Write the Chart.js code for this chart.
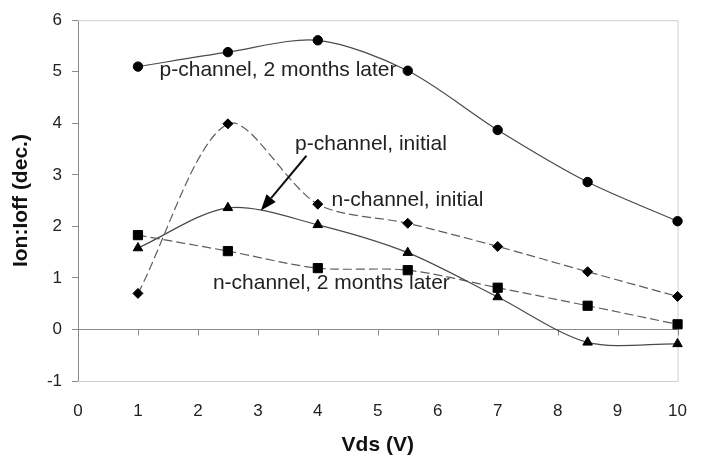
<!DOCTYPE html>
<html>
<head>
<meta charset="utf-8">
<script src="https://cdn.jsdelivr.net/npm/chart.js@4/dist/chart.umd.min.js"></script>
<style>
  html, body { margin: 0; padding: 0; background: #fff; }
  #wrap { width: 707px; height: 461px; }
</style>
</head>
<body>
<div id="wrap"><canvas id="chart" width="707" height="461"></canvas></div>
<script>
// Drain voltage (V) at which each on/off ratio was measured
const vds = [1, 2.5, 4, 5.5, 7, 8.5, 10];

// log10(Ion/Ioff) for each device and measurement time
const pChannelLater   = [5.10, 5.38, 5.61, 5.02, 3.87, 2.86, 2.10];
const nChannelInitial = [0.70, 3.99, 2.43, 2.06, 1.61, 1.12, 0.64];
const pChannelInitial = [1.58, 2.36, 2.03, 1.49, 0.63, -0.25, -0.28];
const nChannelLater   = [1.83, 1.52, 1.19, 1.15, 0.81, 0.46, 0.10];

// Axis ranges and titles
const xRange = [0, 10];
const yRange = [-1, 6];
const xTitle = 'Vds (V)';
const yTitle = 'Ion:Ioff (dec.)';

// Curve labels placed in data coordinates
const curveLabels = [
  { text: 'p-channel, 2 months later', x: 1.36, y: 4.91 },
  { text: 'p-channel, initial',        x: 3.62, y: 3.49 },
  { text: 'n-channel, initial',        x: 4.23, y: 2.39 },
  { text: 'n-channel, 2 months later', x: 2.25, y: 0.78 }
];
// Pointer from the "p-channel, initial" label to its curve
const pointer = { from: [3.81, 3.37], to: [3.05, 2.31] };

const FONT = "'Liberation Sans', Arial, sans-serif";
const toXY = (ys) => vds.map((x, i) => ({ x, y: ys[i] }));

function series(label, ys, style, dashed, radius) {
  return {
    label,
    data: toXY(ys),
    showLine: true,
    borderColor: dashed ? '#5e5e5e' : '#4a4a4a',
    borderWidth: 1.2,
    borderDash: dashed ? [9, 4] : [],
    tension: 0.3,
    pointStyle: style,
    pointRadius: radius,
    pointBackgroundColor: '#000',
    pointBorderColor: '#000',
    pointBorderWidth: 1,
    clip: false
  };
}

// Light frame around the plot, the y = 0 axis line with its ticks, and the curve labels
const decorations = {
  id: 'decorations',
  beforeDatasetsDraw(chart) {
    const { ctx, chartArea: a, scales } = chart;
    const xs = scales.x, ys = scales.y;
    ctx.save();
    ctx.strokeStyle = '#cfcfcf';
    ctx.lineWidth = 1;
    ctx.beginPath();
    ctx.moveTo(a.left, a.top + 0.5);
    ctx.lineTo(a.right + 0.5, a.top + 0.5);
    ctx.lineTo(a.right + 0.5, a.bottom + 0.5);
    ctx.lineTo(a.left, a.bottom + 0.5);
    ctx.stroke();

    const y0 = Math.round(ys.getPixelForValue(0)) + 0.5;
    ctx.strokeStyle = '#8a8a8a';
    ctx.beginPath();
    ctx.moveTo(a.left, y0);
    ctx.lineTo(a.right, y0);
    xs.ticks.forEach(t => {
      const px = Math.round(xs.getPixelForValue(t.value)) + 0.5;
      ctx.moveTo(px, y0);
      ctx.lineTo(px, y0 + 6);
    });
    ctx.stroke();
    ctx.restore();
  },
  afterDatasetsDraw(chart) {
    const { ctx, scales } = chart;
    const xs = scales.x, ys = scales.y;
    ctx.save();
    ctx.fillStyle = '#222';
    ctx.font = '21px ' + FONT;
    ctx.textAlign = 'left';
    ctx.textBaseline = 'alphabetic';
    curveLabels.forEach(l => {
      ctx.fillText(l.text, xs.getPixelForValue(l.x), ys.getPixelForValue(l.y));
    });

    const x1 = xs.getPixelForValue(pointer.from[0]), y1 = ys.getPixelForValue(pointer.from[1]);
    const x2 = xs.getPixelForValue(pointer.to[0]),   y2 = ys.getPixelForValue(pointer.to[1]);
    const ang = Math.atan2(y2 - y1, x2 - x1);
    const headLen = 16, headHalf = 6;
    const bx = x2 - Math.cos(ang) * headLen, by = y2 - Math.sin(ang) * headLen;
    ctx.strokeStyle = '#111';
    ctx.lineWidth = 2;
    ctx.beginPath();
    ctx.moveTo(x1, y1);
    ctx.lineTo(bx, by);
    ctx.stroke();
    ctx.fillStyle = '#000';
    ctx.beginPath();
    ctx.moveTo(x2, y2);
    ctx.lineTo(bx + Math.sin(ang) * headHalf, by - Math.cos(ang) * headHalf);
    ctx.lineTo(bx - Math.sin(ang) * headHalf, by + Math.cos(ang) * headHalf);
    ctx.closePath();
    ctx.fill();
    ctx.restore();
  }
};

new Chart(document.getElementById('chart'), {
  type: 'scatter',
  data: {
    datasets: [
      series('p-channel, 2 months later', pChannelLater, 'circle', false, 4.7),
      series('n-channel, initial', nChannelInitial, 'rectRot', true, 5),
      series('p-channel, initial', pChannelInitial, 'triangle', false, 5.5),
      series('n-channel, 2 months later', nChannelLater, 'rect', true, 6.5)
    ]
  },
  options: {
    responsive: false,
    animation: false,
    devicePixelRatio: 1,
    layout: { padding: { left: 0, right: 25, top: 15, bottom: 0 } },
    plugins: {
      legend: { display: false },
      tooltip: { enabled: false }
    },
    scales: {
      x: {
        type: 'linear',
        min: xRange[0],
        max: xRange[1],
        afterFit: (s) => { s.height = 80; },
        ticks: { stepSize: 1, color: '#222', padding: 20, font: { family: FONT, size: 17 } },
        grid: { display: false, drawTicks: false },
        border: { display: false },
        title: {
          display: true,
          text: xTitle,
          color: '#111',
          padding: { top: 0, bottom: 3 },
          font: { family: FONT, size: 21, weight: 'bold' }
        }
      },
      y: {
        type: 'linear',
        min: yRange[0],
        max: yRange[1],
        afterFit: (s) => { s.width = 78; },
        ticks: { stepSize: 1, color: '#222', padding: 10, font: { family: FONT, size: 17 } },
        grid: { drawOnChartArea: false, drawTicks: true, tickLength: 6, color: '#8a8a8a' },
        border: { display: true, color: '#8a8a8a', width: 1 },
        title: {
          display: true,
          text: yTitle,
          color: '#111',
          padding: { top: 9, bottom: 0 },
          font: { family: FONT, size: 21, weight: 'bold' }
        }
      }
    }
  },
  plugins: [decorations]
});
</script>
</body>
</html>
